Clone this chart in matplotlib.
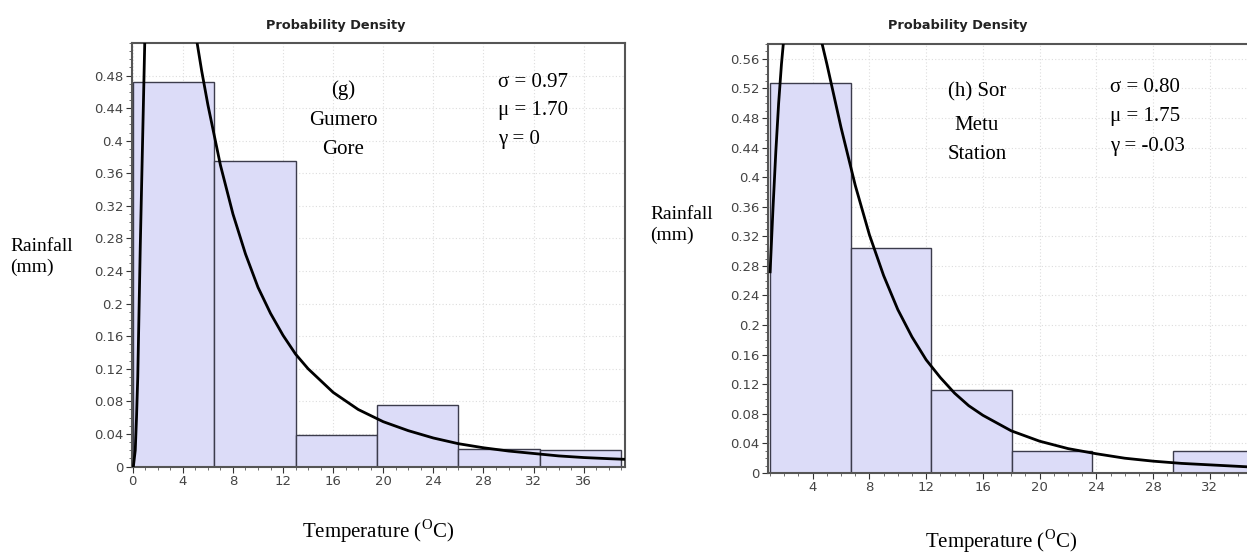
import matplotlib
matplotlib.use("Agg")
import matplotlib.pyplot as plt
from matplotlib.ticker import MultipleLocator, FuncFormatter
import numpy as np

# (g) Gumero Gore - histogram bins and fitted density
g_edges = [0, 6.5, 13, 19.5, 26, 32.5, 39]
g_heights = [0.472, 0.375, 0.039, 0.076, 0.021, 0.020]
g_curve_x = [0.05, 0.2, 0.3, 0.4, 0.5, 0.6, 0.7, 0.8, 0.9, 1.0,
             1.5, 2.1, 3, 4, 4.8, 5.5, 6, 7, 8, 9, 10, 11, 12, 13, 14,
             16, 18, 20, 22, 24, 26, 28, 30, 32, 34, 36, 38, 39.3]
g_curve_y = [0.0, 0.02, 0.06, 0.11, 0.19, 0.27, 0.34, 0.41, 0.48, 0.55,
             0.731, 0.78, 0.735, 0.634, 0.552, 0.486, 0.444, 0.370, 0.310, 0.261, 0.220, 0.188, 0.161, 0.138, 0.120,
             0.091, 0.070, 0.055, 0.044, 0.035, 0.028, 0.023, 0.019, 0.016, 0.013, 0.011, 0.0096, 0.0088]
g_label = "(g)\nGumero\nGore"
g_params = "σ = 0.97\nμ = 1.70\nγ = 0"

# (h) Sor Metu Station
h_edges = [1.02, 6.69, 12.36, 18.03, 23.70, 29.37, 35.04]
h_heights = [0.527, 0.304, 0.112, 0.030, 0.0, 0.030]
h_curve_x = [1.0, 1.2, 1.4, 1.6, 1.8, 2.0, 3.0, 4.0, 5.0, 5.5, 6, 7, 8, 9, 10,
             11, 12, 13, 14, 15, 16, 18, 20, 22, 24, 26, 28, 30, 32, 34, 35]
h_curve_y = [0.272, 0.357, 0.434, 0.500, 0.553, 0.595, 0.676, 0.634, 0.553, 0.510, 0.467, 0.389, 0.322, 0.267, 0.221,
             0.184, 0.153, 0.129, 0.108, 0.091, 0.078, 0.057, 0.043, 0.033, 0.026, 0.020, 0.016, 0.013, 0.011, 0.009, 0.008]
h_label = "(h) Sor"
h_label2 = "Metu\nStation"
h_params = "σ = 0.80\nμ = 1.75\nγ = -0.03"

plt.rcParams['mathtext.fontset'] = 'custom'
plt.rcParams['mathtext.rm'] = 'Liberation Serif'

W, H = 1247, 553
fig = plt.figure(figsize=(W / 100, H / 100), dpi=100)
fig.patch.set_facecolor('white')

TICKFONT = ['DejaVu Sans']
SERIF = ['Liberation Serif', 'DejaVu Serif']


def box(x0, y0, x1, y1):
    return [x0 / W, 1 - y1 / H, (x1 - x0) / W, (y1 - y0) / H]


def fmt(v, pos):
    return f"{round(v, 2):g}"


def draw_panel(ax, edges, heights, cx, cy, xlim, ylim, xticks, yticks):
    ax.bar(edges[:-1], heights, width=np.diff(edges), align='edge',
           color='#dcdcf8', edgecolor='#3c3c4c', linewidth=1.0, zorder=2)
    ax.plot(cx, cy, color='black', linewidth=2.0, zorder=3)
    ax.set_xlim(*xlim)
    ax.set_ylim(*ylim)
    ax.set_xticks(xticks)
    ax.set_yticks(yticks)
    ax.xaxis.set_minor_locator(MultipleLocator(1))
    ax.yaxis.set_minor_locator(MultipleLocator(0.01))
    ax.yaxis.set_major_formatter(FuncFormatter(fmt))
    ax.tick_params(which='major', direction='out', length=4, width=0.8,
                   colors='#333333', labelsize=9.5, pad=2)
    ax.tick_params(which='minor', direction='out', length=2, width=0.6, colors='#555555')
    for lab in ax.get_xticklabels() + ax.get_yticklabels():
        lab.set_family(TICKFONT)
        lab.set_color('#444444')
    ax.grid(True, which='major', color='#dddddd', linestyle=(0, (1, 2)), linewidth=0.8, zorder=0)
    ax.set_axisbelow(True)
    for s in ax.spines.values():
        s.set_color('#555555')
        s.set_linewidth(1.5)


# left panel
ax1 = fig.add_axes(box(131.5, 43, 625, 466.5))
draw_panel(ax1, g_edges, g_heights, g_curve_x, g_curve_y,
           (-0.1, 39.3), (0, 0.52), np.arange(0, 37, 4), np.arange(0, 0.49, 0.04))
ax1.text(343, H - 120, g_label, transform=None, ha='center', va='center',
         fontsize=15, family=SERIF, linespacing=1.75)
ax1.text(498, H - 111, g_params, transform=None, ha='left', va='center',
         fontsize=15, family=SERIF, linespacing=1.65)

# right panel (cut at the image edge)
ax2 = fig.add_axes(box(768, 44, 1251, 473))
draw_panel(ax2, h_edges, h_heights, h_curve_x, h_curve_y,
           (0.85, 34.9), (0, 0.58), np.arange(4, 33, 4), np.arange(0, 0.57, 0.04))
ax2.spines['right'].set_visible(False)
ax2.text(948, H - 92, h_label, transform=None, ha='left', va='center',
         fontsize=15, family=SERIF)
ax2.text(977, H - 140, h_label2, transform=None, ha='center', va='center',
         fontsize=15, family=SERIF, linespacing=1.7)
ax2.text(1110, H - 117, h_params, transform=None, ha='left', va='center',
         fontsize=15, family=SERIF, linespacing=1.75)

# titles and axis labels
for xc in (336, 958):
    fig.text(xc / W, 1 - 25 / H, "Probability Density", ha='center', va='center',
             fontsize=9.3, fontweight='bold', family=TICKFONT, color='#222222')

fig.text(10 / W, 1 - 257 / H, "Rainfall\n(mm)", ha='left', va='center',
         fontsize=14, family=SERIF, linespacing=1.3)
fig.text(650 / W, 1 - 225 / H, "Rainfall\n(mm)", ha='left', va='center',
         fontsize=14, family=SERIF, linespacing=1.3)

fig.text(378 / W, 1 - 531 / H, r"Temperature ($^{\mathrm{O}}$C)", ha='center', va='center',
         fontsize=15, family=SERIF)
fig.text(1001 / W, 1 - 541 / H, r"Temperature ($^{\mathrm{O}}$C)", ha='center', va='center',
         fontsize=15, family=SERIF)

fig.savefig("out.png", dpi=100, facecolor='white')
